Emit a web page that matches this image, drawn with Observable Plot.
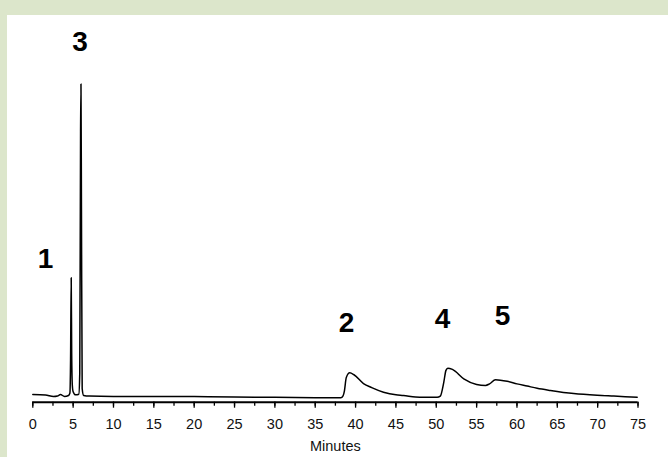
<!DOCTYPE html>
<html>
<head>
<meta charset="utf-8">
<script src="https://cdn.jsdelivr.net/npm/d3@7"></script>
<script src="https://cdn.jsdelivr.net/npm/@observablehq/plot@0.6"></script>
<style>
  html, body { margin: 0; padding: 0; }
  body { width: 668px; height: 457px; background: rgb(220,230,203); position: relative; overflow: hidden; font-family: "Liberation Sans", Arial, sans-serif; }
  #chart { position: absolute; left: 7px; top: 15px; width: 661px; height: 442px; background: #fff; }
</style>
</head>
<body>
<div id="chart"></div>
<script>
// Retention time (minutes) and detector signal (arbitrary units, peak 3 = 100)
const minutes = [0, 1.57, 2.57, 3.06, 3.43, 3.93, 4.42, 4.6, 4.68, 4.76, 4.82, 4.9, 5.0, 5.3, 5.7, 5.82, 5.92, 5.97, 6.03, 6.12, 6.3, 7, 10, 15, 20, 25, 30, 35, 38.0, 38.34, 38.6, 38.85, 39.28, 39.8, 40.98, 42, 43.46, 45, 45.94, 47.42, 48.5, 50.1, 50.5, 50.93, 51.2, 51.43, 52, 53.41, 55, 56.1, 56.6, 57.34, 58.79, 60, 61.26, 62.5, 64.15, 67.04, 69.94, 72, 74.9];
const signal  = [1.1, 0.96, 0.48, 0.64, 1.1, 0.48, 0.8, 1.6, 12, 38.3, 14, 4, 2, 1.0, 1.2, 8, 85, 100, 60, 3, 0.8, 0.6, 0.5, 0.48, 0.45, 0.35, 0.2, 0.1, 0.05, 0.3, 2, 6.5, 8.0, 7.4, 4.6, 3.3, 1.85, 1.0, 0.8, 0.3, 0.2, 0.2, 0.6, 5, 8.8, 9.5, 9.1, 6.1, 4.3, 4.0, 4.5, 5.8, 5.3, 4.5, 3.8, 3.1, 2.4, 1.4, 0.85, 0.6, 0.25];

// Peak labels
const peakNames = ["1", "2", "3", "4", "5"];
const peakX     = [1.57, 38.87, 5.85, 50.77, 58.2];
const peakY     = [44.1, 24.0, 113.3, 25.3, 26.0];

// Axis ticks
const majorTicks = d3.range(0, 76, 5);
const minorTicks = d3.range(0, 76, 2.5);
const yMin = -1.34;

const trace = minutes.map((m, i) => ({m, s: signal[i]}));
const peaks = peakNames.map((n, i) => ({n, x: peakX[i], y: peakY[i]}));

const chart = Plot.plot({
  width: 661,
  height: 442,
  marginLeft: 25.3,
  marginRight: 30.5,
  marginTop: 68.5,
  marginBottom: 55.3,
  style: {background: "#fff", fontFamily: "Liberation Sans, Arial, sans-serif"},
  x: {domain: [0, 75]},
  y: {domain: [yMin, 100], axis: null},
  marks: [
    Plot.axisX({ticks: minorTicks, tickSize: 4, tickFormat: () => "", strokeWidth: 1.3, label: null}),
    Plot.axisX({ticks: majorTicks, tickSize: 6, tickPadding: 11, strokeWidth: 1.3, fontSize: 14.5, fill: "#111",
                label: "Minutes", labelAnchor: "center", labelArrow: "none", labelOffset: 49}),
    Plot.ruleY([yMin], {stroke: "#000", strokeWidth: 2}),
    Plot.line(trace, {x: "m", y: "s", stroke: "#000", strokeWidth: 1.5, curve: "monotone-x"}),
    Plot.text(peaks, {x: "x", y: "y", text: "n", fontSize: 28, fontWeight: "bold", fill: "#000", textAnchor: "middle", lineAnchor: "middle"})
  ]
});
document.getElementById("chart").appendChild(chart);
</script>
</body>
</html>
